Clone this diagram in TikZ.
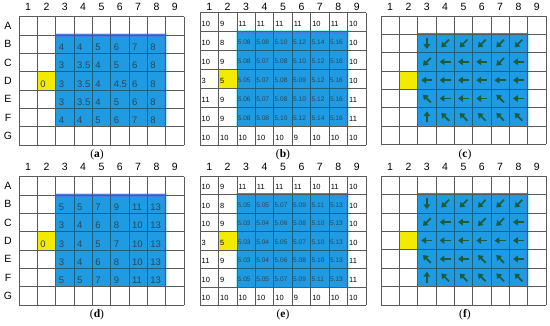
\documentclass[tikz,border=0pt]{standalone}
\usepackage{fontspec}
\setmainfont{Liberation Sans}
\newfontfamily\capfont{Liberation Serif}
\usetikzlibrary{arrows.meta}
\definecolor{bluefill}{HTML}{1E9BE3}
\definecolor{bandblue}{HTML}{4A7FE0}
\definecolor{cyanedge}{HTML}{A6F2F5}
\definecolor{yellowc}{HTML}{F2EA00}
\definecolor{gridc}{HTML}{5A5A5A}
\definecolor{innerc}{HTML}{1F5F7A}
\definecolor{arrowc}{HTML}{1D5B3C}
\definecolor{valc}{HTML}{2C4656}
\tikzset{
  hdr/.style={font=\fontsize{10.5}{11}\selectfont, inner sep=0pt},
  valbig/.style={font=\fontsize{9.5}{10}\selectfont, text=valc, anchor=west, inner sep=0pt},
  valw/.style={font=\fontsize{7.5}{8}\selectfont, text=black, anchor=west, inner sep=0pt},
  vals/.style={font=\fontsize{6.6}{7}\selectfont, text=valc, anchor=west, inner sep=0pt},
  arr/.style={arrowc, line width=1.7pt, -{Triangle[length=4.8pt,width=6.4pt]}},
  capt/.style={font=\capfont\fontsize{11.5}{12}\selectfont, inner sep=0pt},
  gline/.style={gridc, line width=0.7pt},
  iline/.style={innerc, line width=0.6pt},
  pa/.style={shift={(19,16.7)}, x=18.33pt, y=-18.33pt},
  pb/.style={shift={(200,12.7)}, x=18.44pt, y=-18.95pt},
  pc/.style={shift={(381,16)}, x=18.33pt, y=-18.33pt},
  pd/.style={shift={(19,176.7)}, x=18.33pt, y=-18.33pt},
  pe/.style={shift={(200,176)}, x=18.44pt, y=-18.48pt},
  pf/.style={shift={(381,176)}, x=18.33pt, y=-18.43pt},
}
% #1 id, #2 header y (cell units)
\newcommand\panelbase[2]{%
  \fill[cyanedge] (1.94,0.9) rectangle (8.08,6);
  \fill[bluefill] (2,0.94) rectangle (8,6);
  \fill[bandblue] (2,0.94) rectangle (8,1.1);
  \fill[bandblue] (7.9,0.94) rectangle (8,6);
  \fill[yellowc] (1,3) rectangle (2,4);
  \foreach \i in {0,...,9} \draw[gline] (\i,0) -- (\i,7);
  \foreach \j in {0,...,7} \draw[gline] (0,\j) -- (9,\j);
  \foreach \i in {3,...,7} \draw[iline] (\i,1) -- (\i,6);
  \foreach \j in {2,...,5} \draw[iline] (2,\j) -- (8,\j);
  \foreach \c in {1,...,9} \node[hdr] (#1h\c) at (\c-0.5,#2) {\c};
}
\newcommand\whitevals[1]{%
  \foreach \c/\r/\t in {1/1/10,2/1/9,3/1/11,4/1/11,5/1/11,6/1/11,7/1/10,8/1/11,9/1/10,
    1/2/10,2/2/8,9/2/10,1/3/10,2/3/9,9/3/10,1/4/3,2/4/5,9/4/10,
    1/5/11,2/5/9,9/5/11,1/6/10,2/6/9,9/6/11,
    1/7/10,2/7/10,3/7/10,4/7/10,5/7/10,6/7/9,7/7/10,8/7/10,9/7/10}
    \node[valw] (#1v\c\r) at (\c-0.92,\r-0.4) {\t};
}
\begin{document}
\begin{tikzpicture}[x=1pt,y=-1pt]
\useasboundingbox (0,0) rectangle (550,325);
\fill[white] (0,0) rectangle (550,325);

% ---------- (a)
\begin{scope}[pa]
  \panelbase{a}{-0.53}
  \foreach \r/\l in {1/A,2/B,3/C,4/D,5/E,6/F,7/G} \node[hdr] (ar\l) at (-0.6,\r-0.5) {\l};
  \foreach \c/\r/\t in {3/2/4,4/2/4,5/2/5,6/2/6,7/2/7,8/2/8,
    3/3/3,4/3/3.5,5/3/4,6/3/5,7/3/6,8/3/8,
    2/4/0,3/4/3,4/4/3.5,5/4/4,6/4/4.5,7/4/6,8/4/8,
    3/5/3,4/5/3.5,5/5/4,6/5/5,7/5/6,8/5/8,
    3/6/4,4/6/4,5/6/5,6/6/6,7/6/7,8/6/8}
    \node[valbig] (av\c\r) at (\c-0.84,\r-0.34) {\t};
\end{scope}
\node[capt] (capa) at (97,155) {(\textbf{a})};

% ---------- (b)
\begin{scope}[pb]
  \panelbase{b}{-0.30}
  \whitevals{b}
  \foreach \c/\r/\t in {3/2/5.08,4/2/5.08,5/2/5.10,6/2/5.12,7/2/5.14,8/2/5.16,
    3/3/5.08,4/3/5.07,5/3/5.08,6/3/5.10,7/3/5.12,8/3/5.16,
    3/4/5.05,4/4/5.07,5/4/5.08,6/4/5.09,7/4/5.12,8/4/5.16,
    3/5/5.06,4/5/5.07,5/5/5.08,6/5/5.10,7/5/5.12,8/5/5.16,
    3/6/5.08,4/6/5.08,5/6/5.10,6/6/5.12,7/6/5.14,8/6/5.16}
    \node[vals] (bv\c\r) at (\c-0.96,\r-0.42) {\t};
\end{scope}
\node[capt] (capb) at (283,155) {(\textbf{b})};

% ---------- (c)
\begin{scope}[pc]
  \panelbase{c}{-0.49}
  \foreach \c/\r/\a in {3/2/90,4/2/135,5/2/135,6/2/135,7/2/135,8/2/135,
    3/3/135,4/3/180,5/3/180,6/3/180,7/3/135,8/3/180,
    3/4/180,4/4/180,5/4/180,6/4/180,7/4/180,8/4/180,
    3/5/225,4/5/180,5/5/180,6/5/180,7/5/225,8/5/180,
    3/6/270,4/6/225,5/6/225,6/6/225,7/6/225,8/6/225}
    \draw[arr] (\c-0.5,\r-0.5) ++({\a+180}:0.3) -- ++(\a:0.6);
\end{scope}
\node[capt] (capc) at (465,155) {(\textbf{c})};

% ---------- (d)
\begin{scope}[pd]
  \panelbase{d}{-0.53}
  \foreach \r/\l in {1/A,2/B,3/C,4/D,5/E,6/F,7/G} \node[hdr] (dr\l) at (-0.6,\r-0.5) {\l};
  \foreach \c/\r/\t in {3/2/5,4/2/5,5/2/7,6/2/9,7/2/11,8/2/13,
    3/3/3,4/3/4,5/3/6,6/3/8,7/3/10,8/3/13,
    2/4/0,3/4/3,4/4/4,5/4/5,6/4/7,7/4/10,8/4/13,
    3/5/3,4/5/4,5/5/6,6/5/8,7/5/10,8/5/13,
    3/6/5,4/6/5,5/6/7,6/6/9,7/6/11,8/6/13}
    \node[valbig] (dv\c\r) at (\c-0.84,\r-0.34) {\t};
\end{scope}
\node[capt] (capd) at (97,315) {(\textbf{d})};

% ---------- (e)
\begin{scope}[pe]
  \panelbase{e}{-0.49}
  \whitevals{e}
  \foreach \c/\r/\t in {3/2/5.05,4/2/5.05,5/2/5.07,6/2/5.09,7/2/5.11,8/2/5.13,
    3/3/5.03,4/3/5.04,5/3/5.06,6/3/5.08,7/3/5.10,8/3/5.13,
    3/4/5.03,4/4/5.04,5/4/5.05,6/4/5.07,7/4/5.10,8/4/5.13,
    3/5/5.03,4/5/5.04,5/5/5.06,6/5/5.08,7/5/5.10,8/5/5.13,
    3/6/5.05,4/6/5.05,5/6/5.07,6/6/5.09,7/6/5.11,8/6/5.13}
    \node[vals] (ev\c\r) at (\c-0.96,\r-0.42) {\t};
\end{scope}
\node[capt] (cape) at (283,315) {(\textbf{e})};

% ---------- (f)
\begin{scope}[pf]
  \panelbase{f}{-0.49}
  \foreach \c/\r/\a in {3/2/90,4/2/135,5/2/135,6/2/135,7/2/135,8/2/135,
    3/3/135,4/3/180,5/3/180,6/3/135,7/3/135,8/3/180,
    3/4/180,4/4/180,5/4/180,6/4/180,7/4/180,8/4/180,
    3/5/225,4/5/180,5/5/180,6/5/225,7/5/225,8/5/180,
    3/6/270,4/6/225,5/6/225,6/6/225,7/6/225,8/6/225}
    \draw[arr] (\c-0.5,\r-0.5) ++({\a+180}:0.3) -- ++(\a:0.6);
\end{scope}
\node[capt] (capf) at (465,315) {(\textbf{f})};
\end{tikzpicture}
\end{document}
